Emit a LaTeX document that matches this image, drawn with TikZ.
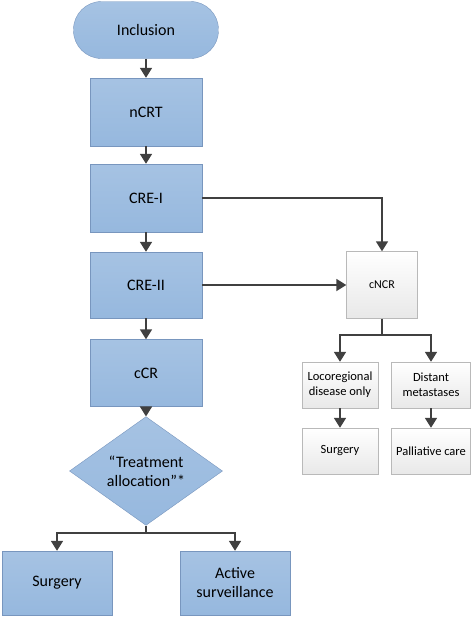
\documentclass[tikz,border=0pt]{standalone}
\usepackage{fontspec}
\setmainfont{Carlito}
\usepackage{tikz}
\usetikzlibrary{arrows.meta,shapes.geometric,positioning,calc}
\definecolor{myblue}{RGB}{150,184,222}
\definecolor{myblueline}{RGB}{120,150,190}
\definecolor{mygrayline}{RGB}{185,185,185}
\definecolor{myarrow}{RGB}{64,64,64}
\tikzstyle{bluebox}=[draw=myblueline,top color=myblue!85!white,bottom color=myblue,
  rectangle,inner sep=2pt,align=center,font=\fontsize{16}{19}\selectfont]
\tikzstyle{graybox}=[draw=mygrayline,top color=white,bottom color=black!9,
  rectangle,inner sep=2pt,align=center,font=\fontsize{12.5}{15}\selectfont]
\tikzstyle{link}=[draw=myarrow,line width=1.8pt,-{Triangle[length=10pt,width=12pt]}]
\tikzstyle{plain}=[draw=myarrow,line width=1.8pt]

\begin{document}
\begin{tikzpicture}[x=1pt,y=-1pt]
\useasboundingbox (0,0) rectangle (472,619);
% left column
\node [bluebox,rounded corners=28pt,minimum width=145pt,minimum height=57pt] (incl) at (146,30) {Inclusion};
\node [bluebox,minimum width=112pt,minimum height=68pt] (ncrt) at (146,112) {nCRT};
\node [bluebox,minimum width=112pt,minimum height=68pt] (cre1) at (146,198) {CRE-I};
\node [bluebox,minimum width=112pt,minimum height=66pt] (cre2) at (146,285) {CRE-II};
\node [bluebox,minimum width=112pt,minimum height=67pt] (ccr) at (146,373) {cCR};
\node [bluebox,diamond,inner sep=0pt,minimum width=153pt,minimum height=92pt] (alloc) at (146,471) {“Treatment\\allocation”*};
\node [bluebox,minimum width=110pt,minimum height=64pt] (surg1) at (57,583) {Surgery};
\node [bluebox,minimum width=110pt,minimum height=64pt] (active) at (235,583) {Active\\surveillance};
% right column
\node [graybox,minimum width=71pt,minimum height=67pt,font=\fontsize{12}{14}\selectfont] (cncr) at (382,285) {cNCR};
\node [graybox,minimum width=76pt,minimum height=46pt] (loco) at (340,385) {Locoregional\\disease only};
\node [graybox,minimum width=79pt,minimum height=46pt] (dist) at (431,385) {Distant\\metastases};
\node [graybox,minimum width=76pt,minimum height=46pt] (surg2) at (340,451) {Surgery};
\node [graybox,minimum width=79pt,minimum height=46pt] (pall) at (431,451) {Palliative care};
\coordinate (split1) at (146,533);
\coordinate (split2) at (382,335);
% connectors
\draw[link] (incl) -- (ncrt);
\draw[link] (ncrt) -- (cre1);
\draw[link] (cre1) -- (cre2);
\draw[link] (cre2) -- (ccr);
\draw[link] (ccr) -- (alloc);
\draw[link] (cre1.east) -| (cncr.north);
\draw[link] (cre2.east) -- (cncr.west);
\draw[plain] (alloc.south) -- (split1);
\draw[link] (split1) -| (surg1.north);
\draw[link] (split1) -| (active.north);
\draw[plain] (cncr.south) -- (split2);
\draw[link] (split2) -| (loco.north);
\draw[link] (split2) -| (dist.north);
\draw[link] (loco) -- (surg2);
\draw[link] (dist) -- (pall);
\end{tikzpicture}
\end{document}
